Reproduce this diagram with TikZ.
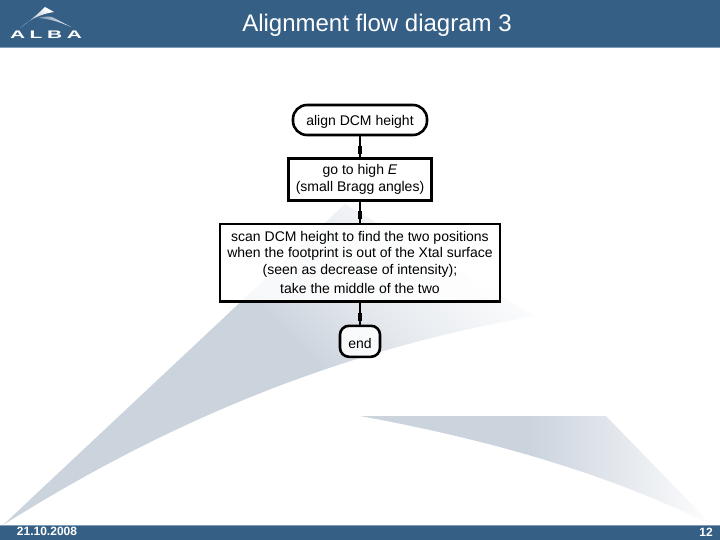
\documentclass[tikz,border=0pt]{standalone}
\usepackage{fontspec}
\setmainfont{Liberation Sans}
\newfontfamily\logofont[LetterSpace=22]{Liberation Sans}
\usetikzlibrary{positioning, arrows.meta, decorations.markings}
\definecolor{albablue}{HTML}{355F85}
\definecolor{albaline}{HTML}{7F9DB5}
\definecolor{swoosh}{HTML}{CBD3DD}
\definecolor{swooshlight}{HTML}{E5E9EE}
\pgfdeclarehorizontalshading{fadeone}{100bp}{color(0bp)=(swoosh); color(52bp)=(swoosh); color(57bp)=(swooshlight); color(65bp)=(white); color(100bp)=(white)}
\pgfdeclarehorizontalshading{fadetwo}{100bp}{color(0bp)=(swoosh); color(49bp)=(swoosh); color(76bp)=(white); color(100bp)=(white)}
\tikzset{
	flowbox/.style={draw=black, line width=2.6pt, fill=white, fill opacity=.85, text opacity=1,
		align=center, font=\fontsize{14}{16.5}\selectfont, inner sep=0pt,
		execute at begin node={\rule{0pt}{14pt}}},
	terminal/.style={flowbox, rounded corners=#1},
	conn/.style={line width=2.6pt, postaction={decorate}, decoration={markings,
		mark=at position .82 with {\arrow{Rectangle[length=8pt,width=4.8pt]}}}},
	footer/.style={text=white, font=\fontsize{12}{12}\selectfont\bfseries},
}

\begin{document}
\begin{tikzpicture}[x=1pt, y=-1pt, node distance=21pt]
	\useasboundingbox (0,0) rectangle (720,540);
	% background swooshes
	\begin{scope}
		\clip (3,525) -- (345,204) -- (535,316) .. controls (340,350) and (170,420) .. (3,525) -- cycle;
		\shade[shading=fadeone, shading angle=45] (-130,-35) rectangle (670,765);
	\end{scope}
	\shade[shading=fadetwo]
	(360,416) -- (606,416) -- (712,525) .. controls (600,470) and (480,438) .. (360,416) -- cycle;
	% header and footer
	\fill[albablue] (0,0) rectangle (720,47);
	\draw[albaline] (0,47.5) -- (720,47.5);
	\fill[albablue] (0,525) rectangle (720,540);
	\draw[albaline] (0,525) -- (720,525);
	% logo
	\shade[left color=white, right color=white!45!albablue, shading angle=-30]
	(20,28) .. controls (30,21) and (39,13) .. (45,7) -- (54,12) .. controls (40,14) and (29,20) .. (20,28) -- cycle;
	\shade[left color=white!30!albablue, right color=white]
	(38,18) .. controls (46,16) and (51,16) .. (54,18) -- (71,27) .. controls (60,22) and (50,19) .. (38,18) -- cycle;
	\node[text=white, xscale=1.9, font=\fontsize{11}{11}\selectfont\logofont\bfseries] (logo) at (46,35) {ALBA};
	\node[text=white, font=\fontsize{24}{26}\selectfont] (title) at (377,25) {Alignment flow diagram 3};
	\node[footer] (date) at (47,531) {21.10.2008};
	\node[footer] (page) at (706,532) {12};
	% flow
	\node[terminal=14pt, minimum width=134pt, minimum height=30pt] (align) at (360,120) {align DCM height};
	\node[flowbox, minimum width=143pt, minimum height=42pt, below = 21pt of align] (high)
	{go to high \textit{E}\\(small Bragg angles)};
	\node[flowbox, minimum width=280pt, minimum height=77pt, below = of high] (scan)
	{scan DCM height to find the two positions\\when the footprint is out of the Xtal surface\\(seen as decrease of intensity);\\[3pt]take the middle of the two};
	\node[terminal=9pt, minimum width=40pt, minimum height=31pt, below = 22pt of scan] (end) {end};
	\draw[conn] (align) -- (high);
	\draw[conn] (high) -- (scan);
	\draw[conn] (scan) -- (end);
\end{tikzpicture}
\end{document}
